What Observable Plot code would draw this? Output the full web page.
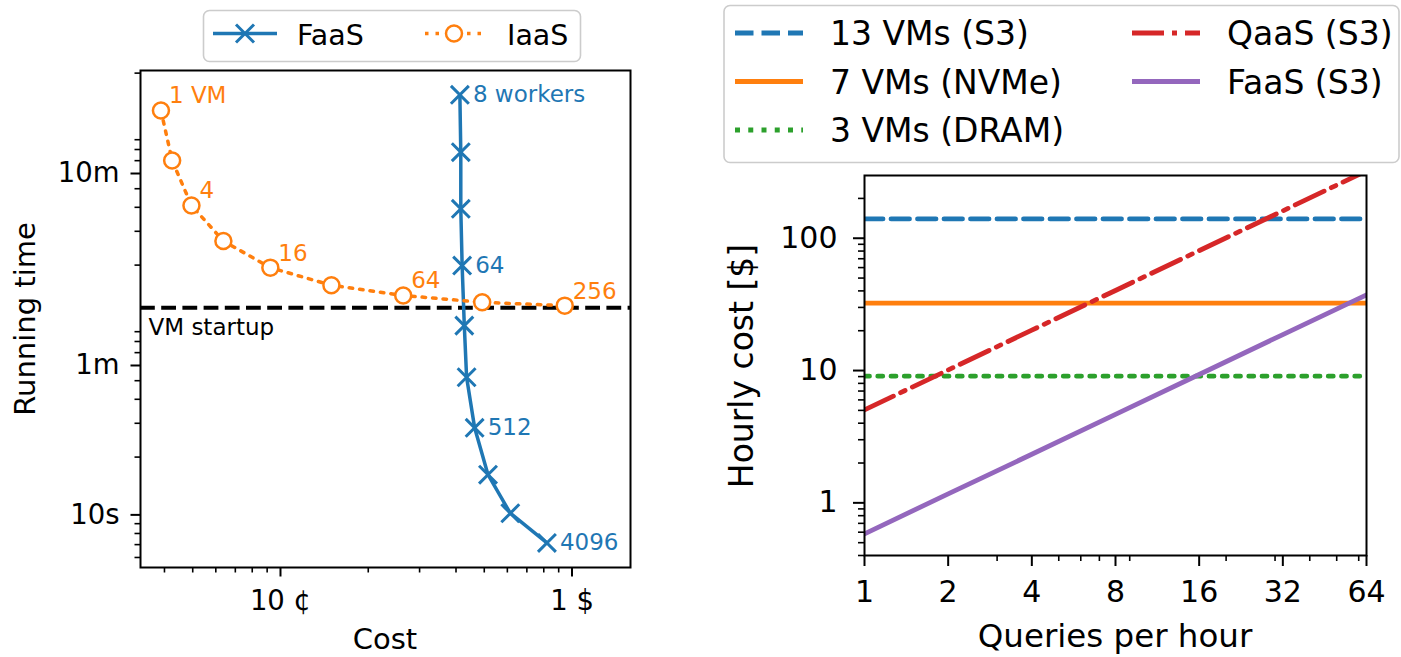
<!DOCTYPE html>
<html>
<head>
<meta charset="utf-8">
<script src="https://cdn.jsdelivr.net/npm/d3@7"></script>
<script src="https://cdn.jsdelivr.net/npm/@observablehq/plot@0.6"></script>
<style>
  html, body { margin: 0; padding: 0; background: #fff; }
  #fig { position: relative; width: 1401px; height: 657px; overflow: hidden; background: #fff;
         font-family: "DejaVu Sans", sans-serif; }
  #fig > svg { position: absolute; top: 0; }
</style>
</head>
<body>
<div id="fig"></div>
<script>
// ---------- Left panel: running time vs. cost ----------
const iaasVMs    = [1, 2, 4, 8, 16, 32, 64, 128, 256];
const iaasCost   = [0.0389, 0.0425, 0.0495, 0.0637, 0.0923, 0.1495, 0.2636, 0.4919, 0.944]; // $
const iaasTime   = [1278, 701, 409, 267, 194, 157, 139, 128, 123];                         // seconds
const iaasLabels = ["1 VM", "", "4", "", "16", "", "64", "", "256"];

const faasWorkers = [8, 16, 32, 64, 128, 256, 512, 1024, 2048, 4096];
const faasCost    = [0.4124, 0.4154, 0.4154, 0.4198, 0.4271, 0.4349, 0.4634, 0.515, 0.6142, 0.8202]; // $
const faasTime    = [1542, 775, 393, 199, 96.8, 52.1, 28.4, 16.2, 10.2, 7.14];                     // seconds
const faasLabels  = ["8 workers", "", "", "64", "", "", "512", "", "", "4096"];

const vmStartupSeconds = 120;

const costTicks      = [0.1, 1];
const costTickLabels = ["10 ¢", "1 $"];
const costMinorTicks = [0.04, 0.05, 0.06, 0.07, 0.08, 0.09, 0.2, 0.3, 0.4, 0.5, 0.6, 0.7, 0.8, 0.9];
const timeTicks      = [10, 60, 600];
const timeTickLabels = ["10s", "1m", "10m"];
const timeMinorTicks = [6, 7, 8, 9, 20, 30, 40, 50, 70, 80, 90, 200, 300, 400, 500, 700, 800, 900, 2000];

// ---------- Right panel: hourly cost vs. query rate ----------
const queriesPerHour = [1, 2, 4, 8, 16, 32, 64];
const cost13VMsS3    = [140, 140, 140, 140, 140, 140, 140];
const cost7VMsNVMe   = [32.3, 32.3, 32.3, 32.3, 32.3, 32.3, 32.3];
const cost3VMsDRAM   = [9.06, 9.06, 9.06, 9.06, 9.06, 9.06, 9.06];
const costQaaSS3     = [5.04, 10.1, 20.2, 40.3, 80.6, 161, 323];
const costFaaSS3     = [0.583, 1.17, 2.33, 4.66, 9.33, 18.7, 37.3];
const rightSeriesNames = ["13 VMs (S3)", "7 VMs (NVMe)", "3 VMs (DRAM)", "QaaS (S3)", "FaaS (S3)"];
const rightSeriesCosts = [cost13VMsS3, cost7VMsNVMe, cost3VMsDRAM, costQaaSS3, costFaaSS3];

const hourlyTicks      = [1, 10, 100];
const hourlyTickLabels = ["1", "10", "100"];
const hourlyMinorTicks = [0.4, 0.5, 0.6, 0.7, 0.8, 0.9, 2, 3, 4, 5, 6, 7, 8, 9, 20, 30, 40, 50, 60, 70, 80, 90, 200];
const queryTicks       = [1, 2, 4, 8, 16, 32, 64];
const queryTickLabels  = ["1", "2", "4", "8", "16", "32", "64"];
const queryMinorTicks  = [3, 5, 6, 7, 9, 20, 30, 40, 50, 60];

// ---------- styles ----------
const C = {blue: "#1f77b4", orange: "#ff7f0e", green: "#2ca02c", red: "#d62728", purple: "#9467bd"};
const rightStyles = [
  {stroke: C.blue,   dash: "18.5,8"},
  {stroke: C.orange, dash: null},
  {stroke: C.green,  dash: "5,8.25"},
  {stroke: C.red,    dash: "32,8,5,8"},
  {stroke: C.purple, dash: null}
];
const rightLineWidth = 4.8;
const font = "DejaVu Sans";

const fig = document.getElementById("fig");

const iaas = iaasVMs.map((n, i) => ({n, cost: iaasCost[i], time: iaasTime[i], label: iaasLabels[i]}));
const faas = faasWorkers.map((n, i) => ({n, cost: faasCost[i], time: faasTime[i], label: faasLabels[i]}));

// tick marks only (labels are drawn as text marks so that log scales keep every label)
const ticksX = (values, size, width) => Plot.axisX(values, {tickSize: size, strokeWidth: width, tickFormat: () => null, label: null});
const ticksY = (values, size, width) => Plot.axisY(values, {tickSize: size, strokeWidth: width, tickFormat: () => null, label: null});

const left = Plot.plot({
  width: 700, height: 657,
  marginLeft: 140, marginRight: 70, marginTop: 70, marginBottom: 90,
  x: {type: "log", domain: [0.0331, 1.587]},
  y: {type: "log", domain: [5.32, 2064]},
  style: {fontFamily: font, fontSize: "27.5px", color: "black", background: "transparent", overflow: "visible"},
  marks: [
    Plot.ruleY([vmStartupSeconds], {stroke: "black", strokeWidth: 4, strokeDasharray: "14.8,6.4"}),
    Plot.text([vmStartupSeconds], {y: d => d, frameAnchor: "left", text: () => "VM startup",
      textAnchor: "start", dx: 8, dy: 20, fontSize: 23, fill: "black"}),
    Plot.line(faas, {x: "cost", y: "time", stroke: C.blue, strokeWidth: 3.5}),
    Plot.dot(faas, {x: "cost", y: "time", symbol: "times", r: 8.2, stroke: C.blue, strokeWidth: 3}),
    Plot.text(faas.filter(d => d.label), {x: "cost", y: "time", text: "label", textAnchor: "start",
      dx: 13, fontSize: 23, fill: C.blue}),
    Plot.line(iaas, {x: "cost", y: "time", stroke: C.orange, strokeWidth: 3.5, strokeDasharray: "3.5,7"}),
    Plot.dot(iaas, {x: "cost", y: "time", r: 8, fill: "white", stroke: C.orange, strokeWidth: 2.5}),
    Plot.text(iaas.filter(d => d.label), {x: "cost", y: "time", text: "label", textAnchor: "start",
      lineAnchor: "bottom", dx: 8, dy: -7, fontSize: 23, fill: C.orange}),
    ticksX(costMinorTicks, 5.5, 1.6),
    ticksX(costTicks, 9.5, 2),
    ticksY(timeMinorTicks, 5.5, 1.6),
    ticksY(timeTicks, 9.5, 2),
    Plot.text(costTicks, {x: d => d, text: (d, i) => costTickLabels[i], frameAnchor: "bottom",
      lineAnchor: "top", dy: 23, fill: "black"}),
    Plot.text(timeTicks, {y: d => d, text: (d, i) => timeTickLabels[i], frameAnchor: "left",
      textAnchor: "end", dx: -21, fill: "black"}),
    Plot.frame({stroke: "black", strokeWidth: 2})
  ]
});
left.style.left = "0px";
fig.appendChild(left);

const rightMarks = [];
rightSeriesNames.forEach((name, s) => {
  const rows = queriesPerHour.map((q, i) => ({q, cost: rightSeriesCosts[s][i], name}));
  rightMarks.push(Plot.line(rows, {x: "q", y: "cost", stroke: rightStyles[s].stroke,
    strokeWidth: rightLineWidth, strokeDasharray: rightStyles[s].dash, clip: true}));
});

const right = Plot.plot({
  width: 701, height: 657,
  marginLeft: 164, marginRight: 35, marginTop: 175, marginBottom: 102,
  x: {type: "log", base: 2, domain: [1, 64]},
  y: {type: "log", domain: [0.4, 298]},
  style: {fontFamily: font, fontSize: "30px", color: "black", background: "transparent", overflow: "visible"},
  marks: [
    ...rightMarks,
    ticksX(queryMinorTicks, 6, 1.6),
    ticksX(queryTicks, 11, 2),
    ticksY(hourlyMinorTicks, 6, 1.6),
    ticksY(hourlyTicks, 11, 2),
    Plot.text(queryTicks, {x: d => d, text: (d, i) => queryTickLabels[i], frameAnchor: "bottom",
      lineAnchor: "top", dy: 25, fill: "black"}),
    Plot.text(hourlyTicks, {y: d => d, text: (d, i) => hourlyTickLabels[i], frameAnchor: "left",
      textAnchor: "end", dx: -27, fill: "black"}),
    Plot.frame({stroke: "black", strokeWidth: 2})
  ]
});
right.style.left = "700px";
fig.appendChild(right);

// ---------- legends and axis titles ----------
const overlay = d3.select(fig).append("svg")
  .attr("width", 1401).attr("height", 657)
  .style("left", "0px").style("pointer-events", "none")
  .attr("font-family", font);

function axisTitle(text, x, y, size, rotate) {
  overlay.append("text")
    .attr("transform", `translate(${x},${y})` + (rotate ? " rotate(-90)" : ""))
    .attr("text-anchor", "middle").attr("font-size", size).attr("fill", "black")
    .text(text);
}
axisTitle("Running time", 34.5, 319, 29, true);
axisTitle("Cost", 385, 649, 29, false);
axisTitle("Hourly cost [$]", 753, 366, 33, true);
axisTitle("Queries per hour", 1115, 647, 32.5, false);

function legendBox(x, y, w, h) {
  overlay.append("rect").attr("x", x).attr("y", y).attr("width", w).attr("height", h)
    .attr("rx", 6).attr("fill", "white").attr("fill-opacity", 0.8)
    .attr("stroke", "#cccccc").attr("stroke-width", 1.6);
}

// left legend
legendBox(203.5, 10.5, 377, 51);
overlay.append("line").attr("x1", 213).attr("x2", 277).attr("y1", 33.5).attr("y2", 33.5)
  .attr("stroke", C.blue).attr("stroke-width", 3.5);
overlay.append("path").attr("transform", "translate(245,33.5)")
  .attr("d", d3.symbol(d3.symbolTimes, 213)()).attr("fill", "none")
  .attr("stroke", C.blue).attr("stroke-width", 3);
overlay.append("text").attr("x", 297).attr("y", 45).attr("font-size", 28.5).text("FaaS");
overlay.append("line").attr("x1", 425).attr("x2", 483).attr("y1", 33.5).attr("y2", 33.5)
  .attr("stroke", C.orange).attr("stroke-width", 3.5).attr("stroke-dasharray", "3.5,7");
overlay.append("circle").attr("cx", 454).attr("cy", 33.5).attr("r", 8)
  .attr("fill", "white").attr("stroke", C.orange).attr("stroke-width", 2.5);
overlay.append("text").attr("x", 507).attr("y", 45).attr("font-size", 28.5).text("IaaS");

// right legend: two columns (13/7/3 VMs, then QaaS/FaaS)
legendBox(724, 5.5, 675, 157);
const legendSlots = [
  {x: 735, y: 33}, {x: 735, y: 81.5}, {x: 735, y: 130},
  {x: 1132, y: 33}, {x: 1132, y: 81.5}
];
rightSeriesNames.forEach((name, s) => {
  const p = legendSlots[s];
  const ln = overlay.append("line").attr("x1", p.x).attr("x2", p.x + 68).attr("y1", p.y).attr("y2", p.y)
    .attr("stroke", rightStyles[s].stroke).attr("stroke-width", rightLineWidth);
  if (rightStyles[s].dash) ln.attr("stroke-dasharray", rightStyles[s].dash);
  overlay.append("text").attr("x", p.x + 95).attr("y", p.y + 12).attr("font-size", 33).text(name);
});
</script>
</body>
</html>
